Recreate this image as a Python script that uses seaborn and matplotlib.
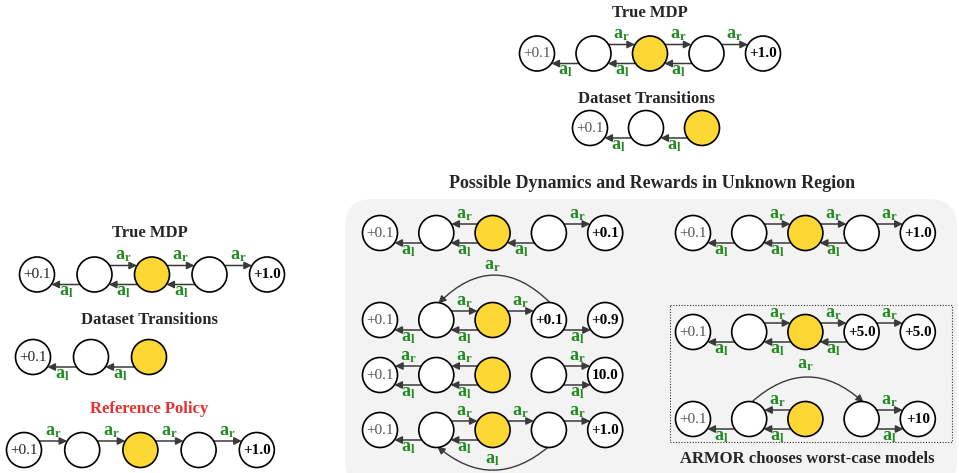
import numpy as np
import matplotlib
matplotlib.use("Agg")
import matplotlib.pyplot as plt
import seaborn as sns
from matplotlib.patches import Circle, FancyArrowPatch, FancyBboxPatch, Rectangle

sns.set_theme(style="white")
plt.rcParams["font.family"] = ["Liberation Serif", "DejaVu Serif"]
plt.rcParams["mathtext.fontset"] = "custom"
plt.rcParams["mathtext.rm"] = "Liberation Serif"
plt.rcParams["mathtext.bf"] = "Liberation Serif:bold"

# ---- diagram data: node rewards, start node, transitions (src, dst, action, lane) ----
true_mdp_nodes = ["+0.1", "", "", "", "+1.0"]
true_mdp_edges = [(1, 2, "r", "top"), (2, 3, "r", "top"), (3, 4, "r", "top"),
                  (1, 0, "l", "bot"), (2, 1, "l", "bot"), (3, 2, "l", "bot")]

dataset_nodes = ["+0.1", "", ""]
dataset_edges = [(1, 0, "l", "bot"), (2, 1, "l", "bot")]

ref_nodes = ["+0.1", "", "", "", "+1.0"]
ref_edges = [(0, 1, "r", "top"), (1, 2, "r", "top"), (2, 3, "r", "top"), (3, 4, "r", "top")]

# possible models in the unknown region
m1_nodes = ["+0.1", "", "", "", "+0.1"]
m1_edges = [(1, 0, "l", "bot"), (2, 1, "r", "top"), (2, 1, "l", "bot"),
            (3, 2, "l", "bot"), (3, 4, "r", "top")]
m1_arcs = []

m2_nodes = ["+0.1", "", "", "+0.1", "+0.9"]
m2_edges = [(1, 2, "r", "top"), (2, 3, "r", "top"), (1, 0, "l", "bot"),
            (2, 1, "l", "bot"), (3, 4, "l", "bot")]
m2_arcs = [(3, 1, "r", "over")]

m3_nodes = ["+0.1", "", "", "", "10.0"]
m3_edges = [(1, 0, "r", "top"), (1, 0, "l", "bot"), (2, 1, "r", "top"),
            (2, 1, "l", "bot"), (3, 4, "r", "top"), (3, 4, "l", "bot")]
m3_arcs = []

m4_nodes = ["+0.1", "", "", "", "+1.0"]
m4_edges = [(1, 2, "r", "top"), (2, 3, "r", "top"), (3, 4, "r", "top"),
            (1, 0, "l", "bot"), (2, 1, "l", "bot")]
m4_arcs = [(3, 1, "l", "under")]

w1_nodes = ["+0.1", "", "", "+5.0", "+5.0"]
w1_edges = [(1, 2, "r", "top"), (2, 3, "r", "top"), (3, 4, "r", "top"),
            (1, 0, "l", "bot"), (2, 1, "l", "bot"), (3, 2, "l", "bot")]

w2_nodes = ["+0.1", "", "", "", "+10"]
w2_edges = [(2, 1, "r", "top"), (2, 1, "l", "bot"), (1, 0, "l", "bot"),
            (3, 4, "r", "top"), (3, 4, "l", "bot")]
w2_arcs = [(1, 3, "r", "over")]

start_node = 2

# ---- style ----
R = 17.5
YELLOW = "#FDD835"
GREEN = "#228B22"
ARROW = "#3a3a3a"
LANE = {"top": -9, "bot": 10}

fig = plt.figure(figsize=(9.59, 4.73), dpi=100)
ax = fig.add_axes([0, 0, 1, 1])
ax.set_xlim(0, 959)
ax.set_ylim(473, 0)
ax.axis("off")


def act(a):
    return r"$\mathbf{a_%s}$" % a


def draw_chain(x0, y, step, nodes, edges, arcs=(), first_color="#555555"):
    xs = [x0 + i * step for i in range(len(nodes))]
    for i, (x, lab) in enumerate(zip(xs, nodes)):
        fc = YELLOW if i == start_node else "white"
        ax.add_patch(Circle((x, y), R, facecolor=fc, edgecolor="black", lw=1.2, zorder=3))
        if lab:
            if i == 0:
                ax.text(x, y, lab, ha="center", va="center", fontsize=11,
                        color=first_color, zorder=4)
            else:
                ax.text(x, y, lab, ha="center", va="center", fontsize=11,
                        fontweight="bold", color="black", zorder=4)
    for s, d, a, lane in edges:
        dy = LANE[lane]
        dx = np.sqrt(R ** 2 - dy ** 2)
        sg = 1 if xs[d] > xs[s] else -1
        p1 = (xs[s] + sg * dx, y + dy)
        p2 = (xs[d] - sg * dx, y + dy)
        ax.add_patch(FancyArrowPatch(p1, p2, arrowstyle="-|>,head_length=0.45,head_width=0.22",
                                     mutation_scale=10, color=ARROW, lw=1.1,
                                     shrinkA=0, shrinkB=0, zorder=2))
        ty = y - 15 if lane == "top" else y + 21
        ax.text((xs[s] + xs[d]) / 2, ty, act(a), ha="center", va="baseline",
                fontsize=13, color=GREEN)
    for s, d, a, kind in arcs:
        if kind == "over":
            p1, p2 = (xs[s] + 2, y - R + 1), (xs[d] + 2, y - R + 1)
            rad = 0.5 if xs[d] < xs[s] else -0.45
            ty = y - R - 33
        else:
            p1, p2 = (xs[s], y + R - 1), (xs[d] + 1, y + R - 1)
            rad = -0.42
            ty = y + R + 16
        ax.add_patch(FancyArrowPatch(p1, p2, connectionstyle="arc3,rad=%s" % rad,
                                     arrowstyle="-|>,head_length=0.45,head_width=0.22",
                                     mutation_scale=10, color=ARROW, lw=1.0,
                                     shrinkA=0, shrinkB=0, zorder=2))
        ax.text((xs[s] + xs[d]) / 2, ty, act(a), ha="center", va="baseline",
                fontsize=13, color=GREEN)


# gray background for the unknown-region panel
ax.add_patch(FancyBboxPatch((345, 199), 612, 290, boxstyle="round,pad=0,rounding_size=28",
                            facecolor="#f3f3f3", edgecolor="none", zorder=0))
ax.add_patch(Rectangle((670, 305), 282, 137, fill=False, edgecolor="#333333",
                       lw=0.8, linestyle=(0, (1, 1.5)), zorder=1))

# titles
ax.text(650, 13, "True MDP", ha="center", va="center", fontsize=12, fontweight="bold")
ax.text(646, 99, "Dataset Transitions", ha="center", va="center", fontsize=12, fontweight="bold")
ax.text(652, 183, "Possible Dynamics and Rewards in Unknown Region", ha="center",
        va="center", fontsize=13, fontweight="bold")
ax.text(150, 233, "True MDP", ha="center", va="center", fontsize=12, fontweight="bold")
ax.text(149, 320, "Dataset Transitions", ha="center", va="center", fontsize=12, fontweight="bold")
ax.text(149, 409, "Reference Policy", ha="center", va="center", fontsize=12,
        fontweight="bold", color="#e53030")
ax.text(807, 459, "ARMOR chooses worst-case models", ha="center", va="center",
        fontsize=12, fontweight="bold")

# top: true MDP and dataset
draw_chain(537, 53.5, 56.5, true_mdp_nodes, true_mdp_edges)
draw_chain(590, 128, 56.0, dataset_nodes, dataset_edges)

# left panel
draw_chain(37, 274.5, 57.5, true_mdp_nodes, true_mdp_edges, first_color="#222222")
draw_chain(33, 357, 58.0, dataset_nodes, dataset_edges, first_color="#222222")
draw_chain(24, 450, 58.2, ref_nodes, ref_edges, first_color="#222222")

# unknown region models
draw_chain(380, 233, 56.3, m1_nodes, m1_edges, m1_arcs)
draw_chain(380, 320, 56.3, m2_nodes, m2_edges, m2_arcs)
draw_chain(380, 375, 56.3, m3_nodes, m3_edges, m3_arcs)
draw_chain(380, 430, 56.3, m4_nodes, m4_edges, m4_arcs)
draw_chain(693, 233, 56.2, true_mdp_nodes, true_mdp_edges)
draw_chain(693, 332, 56.2, w1_nodes, w1_edges)
draw_chain(693, 419, 56.2, w2_nodes, w2_edges, w2_arcs)

fig.savefig("out.png", dpi=100)
